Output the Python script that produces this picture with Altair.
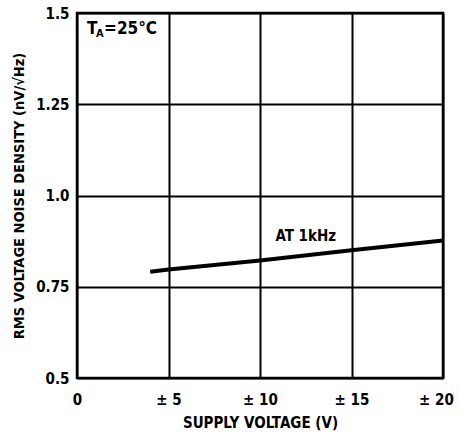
import altair as alt
import pandas as pd

supply = [4, 5, 10, 15, 20]
noise = [0.791, 0.797, 0.822, 0.850, 0.877]
x_ticks = [0, 5, 10, 15, 20]
y_ticks = [0.5, 0.75, 1.0, 1.25, 1.5]

FONT = "DejaVu Sans Condensed, Liberation Sans Narrow, Liberation Sans, sans-serif"

df = pd.DataFrame({"v": supply, "n": noise})

xs = alt.Scale(domain=[0, 20], nice=False, zero=False)
ys = alt.Scale(domain=[0.5, 1.5], nice=False, zero=False)

x_label_expr = "datum.value == 0 ? '0' : '± ' + datum.value"
y_label_expr = "datum.value == 0.5 ? '0.5' : datum.value == 0.75 ? '0.75' : datum.value == 1 ? '1.0' : datum.value == 1.25 ? '1.25' : '1.5'"

line = alt.Chart(df).mark_line(color="black", strokeWidth=4).encode(
    x=alt.X("v:Q", scale=xs, axis=alt.Axis(
        values=x_ticks, title="SUPPLY VOLTAGE (V)", labelExpr=x_label_expr,
        grid=True, gridColor="black", gridWidth=2, gridOpacity=1,
        ticks=False, domain=False, labelPadding=14, titlePadding=8,
        labelFlush=False,
        labelOffset={"condition": {"test": "datum.value == 20", "value": -7}, "value": 0},
        labelFont=FONT, labelFontSize=15, labelFontWeight="bold", labelColor="black",
        titleFont=FONT, titleFontSize=15, titleFontWeight="bold", titleColor="black",
    )),
    y=alt.Y("n:Q", scale=ys, axis=alt.Axis(
        values=y_ticks, title="RMS VOLTAGE NOISE DENSITY (nV/√Hz)", labelExpr=y_label_expr,
        grid=True, gridColor="black", gridWidth=2, gridOpacity=1,
        ticks=False, domain=False, labelPadding=8, titlePadding=9,
        labelFont=FONT, labelFontSize=15, labelFontWeight="bold", labelColor="black",
        titleFont=FONT, titleFontSize=14.5, titleFontWeight="bold", titleColor="black",
    )),
)

lbl = pd.DataFrame({"x": [12.5], "y": [0.888], "t": ["AT 1kHz"]})
label = alt.Chart(lbl).mark_text(font=FONT, fontSize=15, fontWeight="bold", color="black").encode(
    x=alt.X("x:Q", scale=xs), y=alt.Y("y:Q", scale=ys), text="t:N")

ta = pd.DataFrame({"x": [0.55], "y": [1.455]})
t1 = alt.Chart(ta).mark_text(font=FONT, fontSize=17, fontWeight="bold", color="black", align="left").encode(
    x=alt.X("x:Q", scale=xs), y=alt.Y("y:Q", scale=ys), text=alt.value("T"))
t2 = alt.Chart(ta).mark_text(font=FONT, fontSize=11, fontWeight="bold", color="black", align="left", dx=9, dy=5).encode(
    x=alt.X("x:Q", scale=xs), y=alt.Y("y:Q", scale=ys), text=alt.value("A"))
t3 = alt.Chart(ta).mark_text(font=FONT, fontSize=17, fontWeight="bold", color="black", align="left", dx=17).encode(
    x=alt.X("x:Q", scale=xs), y=alt.Y("y:Q", scale=ys), text=alt.value("=25°C"))

chart = alt.layer(line, label, t1, t2, t3).properties(
    width=366, height=365,
    autosize=alt.AutoSizeParams(type="none"),
    padding={"left": 77, "top": 13, "right": 16, "bottom": 56},
    background="white",
).configure_view(stroke="black", strokeWidth=2.5)

chart.save("out.html", embed_options={"renderer": "svg", "actions": False})
